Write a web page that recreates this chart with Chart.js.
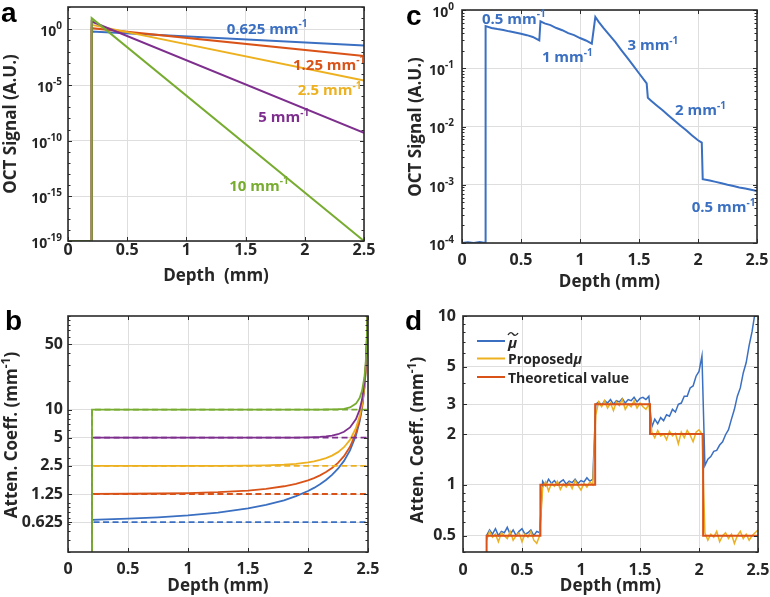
<!DOCTYPE html>
<html>
<head>
<meta charset="utf-8">
<script src="https://cdn.jsdelivr.net/npm/chart.js@4.4.0/dist/chart.umd.min.js"></script>
<style>
  body { margin: 0; background: #fff; }
  #wrap { position: relative; width: 770px; height: 597px; }
  canvas { position: absolute; }
</style>
</head>
<body>
<div id="wrap">
  <canvas id="chartA" width="385" height="297" style="left:0;top:0"></canvas>
  <canvas id="chartC" width="385" height="297" style="left:385px;top:0"></canvas>
  <canvas id="chartB" width="385" height="300" style="left:0;top:297px"></canvas>
  <canvas id="chartD" width="385" height="300" style="left:385px;top:297px"></canvas>
</div>
<script>
// ---------- data ----------
var depthTicks = [0, 0.5, 1, 1.5, 2, 2.5];

// a: OCT signal of five homogeneous samples (log scale, straight lines)
var aDepth = [0, 0.2, 0.2, 2.5];
var aSig10 = [1e-19, 1e-19, 10, 1e-19];
var aSig5 = [1e-19, 1e-19, 5, 5e-10];
var aSig25 = [1e-19, 1e-19, 2.5, 2.5e-5];
var aSig125 = [1e-19, 1e-19, 1.25, 4e-3];
var aSig0625 = [1e-19, 1e-19, 0.625, 0.035];
var aTicks = [1e-19, 1e-15, 1e-10, 1e-5, 1];
var aTickExp = ['-19', '-15', '-10', '-5', '0'];

// b: estimated attenuation (solid) vs true value (dashed)
var bDepth = [0.2, 0.2, 0.5, 0.75, 1.0, 1.25, 1.5, 1.65, 1.8, 1.9, 2.0, 2.05, 2.1, 2.15, 2.2, 2.25, 2.3, 2.35, 2.4, 2.43, 2.45, 2.47, 2.48, 2.49, 2.497];
var bEst10 = [0.1, 10, 10, 10, 10, 10, 10, 10, 10, 10, 10, 10.001, 10.003, 10.009, 10.02, 10.068, 10.19, 10.52, 11.57, 13.27, 15.82, 22.16, 30.33, 55.16, 172];
var bEst5 = [0.1, 5, 5, 5, 5, 5, 5, 5, 5.005, 5.012, 5.034, 5.056, 5.093, 5.156, 5.262, 5.447, 5.782, 6.436, 7.91, 9.93, 12.71, 19.29, 27.58, 52.5, 169];
var bEst25 = [0.1, 2.5, 2.5, 2.5, 2.501, 2.505, 2.517, 2.536, 2.578, 2.631, 2.724, 2.795, 2.891, 3.026, 3.218, 3.504, 3.955, 4.738, 6.353, 8.466, 11.3, 17.95, 26.27, 51.25, 168];
var bEst125 = [0.1, 1.254, 1.258, 1.266, 1.28, 1.307, 1.362, 1.42, 1.513, 1.609, 1.752, 1.851, 1.978, 2.144, 2.369, 2.69, 3.177, 3.997, 5.65, 7.79, 10.64, 17.29, 25.6, 50.6, 167];
var bEst0625 = [0.1, 0.662, 0.681, 0.704, 0.738, 0.791, 0.876, 0.955, 1.072, 1.185, 1.345, 1.453, 1.589, 1.763, 1.999, 2.329, 2.826, 3.655, 5.32, 7.46, 10.31, 16.98, 25.3, 50.3, 167];
var bTrueDepth = [0.2, 0.2, 2.5];
var bTrue10 = [0.1, 10, 10];
var bTrue5 = [0.1, 5, 5];
var bTrue25 = [0.1, 2.5, 2.5];
var bTrue125 = [0.1, 1.25, 1.25];
var bTrue0625 = [0.1, 0.625, 0.625];
var bTicks = [0.625, 1.25, 2.5, 5, 10, 50];
var bTickLabels = ['0.625', '1.25', '2.5', '5', '10', '50'];

// c: OCT signal of a layered sample
var cDepth = [0, 0.05, 0.1, 0.15, 0.199, 0.2, 0.25, 0.3, 0.35, 0.4, 0.45, 0.5, 0.55, 0.6, 0.655,
  0.665, 0.7, 0.75, 0.8, 0.85, 0.9, 0.95, 1.0, 1.05, 1.1, 1.13, 1.16, 1.2, 1.25, 1.3, 1.35, 1.4,
  1.45, 1.5, 1.565, 1.575, 1.6, 1.65, 1.7, 1.75, 1.8, 1.85, 1.9, 1.95, 2.0, 2.032, 2.04, 2.1,
  2.15, 2.2, 2.25, 2.3, 2.35, 2.4, 2.45, 2.5];
var cSignal = [1.0e-4, 1.03e-4, 1.0e-4, 1.04e-4, 1.0e-4, 0.53, 0.49, 0.47, 0.455, 0.43, 0.41, 0.39,
  0.37, 0.345, 0.30, 0.64, 0.59, 0.55, 0.49, 0.45, 0.40, 0.37, 0.33, 0.30, 0.265, 0.76, 0.62,
  0.49, 0.37, 0.28, 0.205, 0.152, 0.112, 0.082, 0.055, 0.031, 0.028, 0.023, 0.019, 0.0155,
  0.0127, 0.0104, 0.0086, 0.0070, 0.0058, 0.0053, 0.00125, 0.00118, 0.00112, 0.00106, 0.00100,
  0.00095, 0.00090, 0.00086, 0.00082, 0.00078];
var cTicks = [1e-4, 1e-3, 1e-2, 1e-1, 1];
var cTickExp = ['-4', '-3', '-2', '-1', '0'];

// d: attenuation of the layered sample
var dDepth = [0.2, 0.225, 0.25, 0.275, 0.3, 0.325, 0.35, 0.375, 0.4, 0.425, 0.45, 0.475, 0.5, 0.525, 0.55, 0.575, 0.6, 0.625, 0.65,
  0.675, 0.7, 0.725, 0.75, 0.775, 0.8, 0.825, 0.85, 0.875, 0.9, 0.925, 0.95, 0.975, 1.0, 1.025, 1.05, 1.075, 1.1,
  1.125, 1.15, 1.175, 1.2, 1.225, 1.25, 1.275, 1.3, 1.325, 1.35, 1.375, 1.4, 1.425, 1.45, 1.475, 1.5, 1.525, 1.55, 1.575,
  1.6, 1.625, 1.65, 1.675, 1.7, 1.725, 1.75, 1.775, 1.8, 1.825, 1.85, 1.875, 1.9, 1.925, 1.95, 1.975, 2.0, 2.025,
  2.05, 2.075, 2.1, 2.125, 2.15, 2.175, 2.2, 2.225, 2.25, 2.275, 2.3, 2.325, 2.35, 2.375, 2.4, 2.425, 2.45, 2.475, 2.5];
var dMuTilde = [0.5, 0.54, 0.51, 0.55, 0.5, 0.53, 0.52, 0.56, 0.51, 0.54, 0.5, 0.53, 0.55, 0.51, 0.52, 0.54, 0.5, 0.53, 0.52,
  1.05, 0.99, 1.08, 1.02, 1.06, 1.0, 1.04, 1.07, 1.01, 1.05, 1.03, 1.08, 1.02, 1.06, 1.04, 1.1, 1.05, 1.08,
  3.0, 3.1, 2.95, 3.15, 3.05, 3.2, 3.0, 3.15, 3.1, 3.25, 3.05, 3.2, 3.15, 3.3, 3.1, 3.25, 3.3, 3.2, 3.35,
  2.2, 2.45, 2.3, 2.5, 2.4, 2.6, 2.55, 2.8, 2.7, 3.0, 3.05, 3.35, 3.35, 3.75, 3.85, 4.4, 4.7, 5.8,
  1.3, 1.42, 1.47, 1.58, 1.6, 1.72, 1.8, 1.98, 2.12, 2.45, 2.8, 3.35, 3.75, 4.6, 5.3, 6.7, 8.1, 10.5, 13];
var dProposed = [0.47, 0.53, 0.49, 0.51, 0.46, 0.52, 0.50, 0.48, 0.53, 0.47, 0.50, 0.52, 0.46, 0.51, 0.49, 0.53, 0.47, 0.45, 0.50,
  0.96, 1.04, 0.92, 1.02, 0.98, 1.05, 0.94, 1.01, 0.97, 1.03, 0.95, 1.06, 0.99, 0.93, 1.02, 0.97, 1.04, 1.00,
  2.6, 3.1, 2.9, 3.15, 2.85, 3.05, 2.75, 3.1, 2.95, 3.2, 2.8, 3.0, 2.9, 3.15, 2.85, 3.05, 2.9, 2.8, 3.0,
  2.05, 1.9, 2.1, 1.95, 2.0, 1.85, 2.08, 1.95, 2.02, 1.75, 2.05, 1.9, 2.1, 1.97, 1.8, 2.05, 2.12, 2.0,
  0.52, 0.47, 0.51, 0.49, 0.53, 0.46, 0.50, 0.52, 0.48, 0.51, 0.45, 0.50, 0.53, 0.48, 0.51, 0.47, 0.50, 0.52, 0.54];
var dTrueDepth = [0.2, 0.2, 0.656, 0.656, 1.12, 1.12, 1.585, 1.585, 2.035, 2.035, 2.5];
var dTrue = [0.1, 0.5, 0.5, 1, 1, 3, 3, 2, 2, 0.5, 0.5];
var dTicks = [0.5, 1, 2, 3, 5, 10];
var dTickLabels = ['0.5', '1', '2', '3', '5', '10'];
var dLegend = ['μ̃', 'Proposed μ', 'Theoretical value'];

// ---------- style ----------
var BLUE = '#3a6fc1', RED = '#d95319', YELLOW = '#edb120', PURPLE = '#7e2f8e', GREEN = '#77ac30';
var ink = '#262626', gridColor = '#dedede', frameColor = '#2b2b2b';
var fam = '"Open Sans", "DejaVu Sans", sans-serif';
var tickFont = { family: fam, size: 16, weight: 'bold', lineHeight: 1.2 };

function pts(xs, ys) {
  return xs.map(function (x, i) { return { x: x, y: ys[i] }; });
}
function series(xs, ys, color, width, dash) {
  return { data: pts(xs, ys), borderColor: color, borderWidth: width, borderDash: dash || [],
    pointRadius: 0, fill: false, tension: 0 };
}
function minorLog(lo, hi) {
  var out = [];
  for (var e = Math.floor(Math.log10(lo)); e <= Math.ceil(Math.log10(hi)); e++) {
    for (var m = 1; m < 10; m++) {
      var v = m * Math.pow(10, e);
      if (v >= lo * 0.999 && v <= hi * 1.001) out.push(v);
    }
  }
  return out;
}

// text with superscript / italic pieces; y is the visual middle of the caps
function drawRich(ctx, x, y, parts, size, color, align, rot, raise) {
  raise = raise || 0.42;
  ctx.save();
  ctx.translate(x, y);
  if (rot) ctx.rotate(rot);
  ctx.fillStyle = color;
  ctx.textBaseline = 'alphabetic';
  var fonts = parts.map(function (p) {
    var sz = p[1] === 's' ? Math.round(size * 0.68) : size;
    return (p[1] === 'i' ? 'italic ' : '') + 'bold ' + sz + 'px ' + fam;
  });
  var widths = parts.map(function (p, i) { ctx.font = fonts[i]; return ctx.measureText(p[0]).width; });
  var total = widths.reduce(function (a, b) { return a + b; }, 0);
  var cx = align === 'center' ? -total / 2 : align === 'right' ? -total : 0;
  parts.forEach(function (p, i) {
    ctx.font = fonts[i];
    var dy = size * 0.357;
    if (p[1] === 's') dy -= size * raise;
    ctx.fillText(p[0], cx, dy);
    cx += widths[i];
  });
  ctx.restore();
}

function decor(cfg) {
  return {
    id: 'decor',
    afterDatasetsDraw: function (chart) {
      var ctx = chart.ctx, a = chart.chartArea, xs = chart.scales.x, ys = chart.scales.y;
      ctx.save();
      ctx.strokeStyle = frameColor;
      ctx.lineWidth = 1;
      ctx.beginPath();
      depthTicks.forEach(function (v) {
        var px = Math.round(xs.getPixelForValue(v)) + 0.5;
        ctx.moveTo(px, a.bottom); ctx.lineTo(px, a.bottom - 4);
        ctx.moveTo(px, a.top); ctx.lineTo(px, a.top + 4);
      });
      cfg.yTicks.forEach(function (v) {
        var py = Math.round(ys.getPixelForValue(v)) + 0.5;
        ctx.moveTo(a.left, py); ctx.lineTo(a.left + 4, py);
        ctx.moveTo(a.right, py); ctx.lineTo(a.right - 4, py);
      });
      (cfg.yMinor || []).forEach(function (v) {
        var py = Math.round(ys.getPixelForValue(v)) + 0.5;
        ctx.moveTo(a.left, py); ctx.lineTo(a.left + 2.5, py);
        ctx.moveTo(a.right, py); ctx.lineTo(a.right - 2.5, py);
      });
      ctx.stroke();
      ctx.lineWidth = 1.6;
      ctx.strokeRect(a.left, a.top, a.right - a.left, a.bottom - a.top);
      ctx.restore();
    },
    afterDraw: function (chart) {
      var ctx = chart.ctx, a = chart.chartArea, xs = chart.scales.x, ys = chart.scales.y;
      // panel letter
      ctx.save();
      ctx.fillStyle = '#000';
      ctx.font = 'bold 28px "Liberation Sans", Arial, sans-serif';
      ctx.textBaseline = 'alphabetic';
      ctx.fillText(cfg.letter[0], cfg.letter[1], cfg.letter[2]);
      ctx.restore();
      // power-of-ten tick labels
      if (cfg.expLabels) {
        cfg.yTicks.forEach(function (v, i) {
          drawRich(ctx, a.left - cfg.expGap, ys.getPixelForValue(v) + 2,
            [['10', 'n'], [cfg.expLabels[i], 's']], 14, ink, 'right', 0, 0.5);
        });
      }
      // axis titles
      drawRich(ctx, cfg.yTitle.x, cfg.yTitle.y, cfg.yTitle.parts, 17, ink, 'center', -Math.PI / 2);
      drawRich(ctx, (a.left + a.right) / 2, cfg.xTitleY, [[cfg.xTitle, 'n']], 17, ink, 'center');
      // curve labels in data coordinates
      (cfg.notes || []).forEach(function (n) {
        drawRich(ctx, xs.getPixelForValue(n.x), ys.getPixelForValue(n.y),
          [[n.text, 'n'], ['-1', 's']], 15, n.color, 'left');
      });
      if (cfg.legend) cfg.legend(ctx, chart);
    }
  };
}

function axes(g) {
  return {
    x: {
      type: 'linear', min: 0, max: 2.5,
      afterBuildTicks: function (s) { s.ticks = depthTicks.map(function (v) { return { value: v }; }); },
      afterFit: function (s) { s.height = g.xH; s.paddingLeft = 0; s.paddingRight = 0; },
      grid: { color: gridColor, lineWidth: 1, drawTicks: false },
      border: { display: false },
      ticks: { padding: g.xPad, color: ink, font: tickFont, maxRotation: 0, autoSkip: false,
        callback: function (v) { return String(v); } }
    },
    y: {
      type: 'logarithmic', min: g.yMin, max: g.yMax,
      afterBuildTicks: function (s) { s.ticks = g.yTicks.map(function (v) { return { value: v }; }); },
      afterFit: function (s) { s.width = g.yW; s.paddingTop = 0; s.paddingBottom = 0; },
      grid: { color: gridColor, lineWidth: 1, drawTicks: false },
      border: { display: false },
      ticks: { display: !!g.yLabels, padding: g.yPad || 0, color: ink, font: tickFont, autoSkip: false,
        callback: function (v, i) { return g.yLabels ? g.yLabels[i] : ''; } }
    }
  };
}

function makeChart(id, g, datasets, cfg) {
  cfg.yTicks = g.yTicks;
  return new Chart(document.getElementById(id), {
    type: 'line',
    data: { datasets: datasets },
    options: {
      responsive: false, animation: false, devicePixelRatio: 1,
      layout: { padding: { left: 0, top: g.top, right: g.right, bottom: 0 } },
      plugins: { legend: { display: false }, tooltip: { enabled: false } },
      scales: axes(g)
    },
    plugins: [decor(cfg)]
  });
}

// ---------- a ----------
makeChart('chartA',
  { yMin: 1e-19, yMax: 100, yTicks: aTicks, yW: 68, top: 7, right: 21, xH: 56, xPad: 0 },
  [
    series(aDepth, aSig10, GREEN, 2),
    series(aDepth, aSig5, PURPLE, 2),
    series(aDepth, aSig25, YELLOW, 2),
    series(aDepth, aSig125, RED, 2),
    series(aDepth, aSig0625, BLUE, 2)
  ],
  {
    letter: ['a', 1, 22],
    expLabels: aTickExp, expGap: 6,
    yMinor: minorLog(1e-19, 100).filter(function (v) { return Math.abs(Math.log10(v) % 1) < 1e-9; }),
    yTitle: { x: 10, y: 124, parts: [['OCT Signal (A.U.)', 'n']] },
    xTitle: 'Depth  (mm)', xTitleY: 275,
    notes: [
      { text: '0.625 mm', x: 1.34, y: 1.2, color: BLUE },
      { text: '1.25 mm', x: 1.9, y: 7e-4, color: RED },
      { text: '2.5 mm', x: 1.94, y: 3.8e-6, color: YELLOW },
      { text: '5 mm', x: 1.607, y: 1.5e-8, color: PURPLE },
      { text: '10 mm', x: 1.362, y: 1e-14, color: GREEN }
    ]
  });

// ---------- c ----------
makeChart('chartC',
  { yMin: 1e-4, yMax: 1, yTicks: cTicks, yW: 77, top: 10, right: 13, xH: 54, xPad: 8 },
  [series(cDepth, cSignal, BLUE, 2)],
  {
    letter: ['c', 21, 25],
    expLabels: cTickExp, expGap: 8,
    yMinor: minorLog(1e-4, 1),
    yTitle: { x: 30, y: 127, parts: [['OCT Signal (A.U.)', 'n']] },
    xTitle: 'Depth (mm)', xTitleY: 281,
    notes: [
      { text: '0.5 mm', x: 0.169, y: 0.72, color: BLUE },
      { text: '1 mm', x: 0.677, y: 0.158, color: BLUE },
      { text: '3 mm', x: 1.402, y: 0.25, color: BLUE },
      { text: '2 mm', x: 1.806, y: 0.0193, color: BLUE },
      { text: '0.5 mm', x: 1.947, y: 4.2e-4, color: BLUE }
    ]
  });

// ---------- b ----------
makeChart('chartB',
  { yMin: 0.3, yMax: 100, yTicks: bTicks, yLabels: bTickLabels, yPad: 5, yW: 68, top: 19, right: 17, xH: 45, xPad: 8 },
  [
    series(bTrueDepth, bTrue10, GREEN, 1.8, [6, 3.5]),
    series(bDepth, bEst10, GREEN, 1.8),
    series(bTrueDepth, bTrue5, PURPLE, 1.8, [6, 3.5]),
    series(bDepth, bEst5, PURPLE, 1.8),
    series(bTrueDepth, bTrue25, YELLOW, 1.8, [6, 3.5]),
    series(bDepth, bEst25, YELLOW, 1.8),
    series(bTrueDepth, bTrue125, RED, 1.8, [6, 3.5]),
    series(bDepth, bEst125, RED, 1.8),
    series(bTrueDepth, bTrue0625, BLUE, 1.8, [6, 3.5]),
    series(bDepth, bEst0625, BLUE, 1.8)
  ],
  {
    letter: ['b', 5, 33],
    yMinor: minorLog(0.3, 100),
    yTitle: { x: 11, y: 138, parts: [['Atten. Coeff. (mm', 'n'], ['-1', 's'], [')', 'n']] },
    xTitle: 'Depth (mm)', xTitleY: 288
  });

// ---------- d ----------
var dColors = [BLUE, YELLOW, RED];
makeChart('chartD',
  { yMin: 0.4, yMax: 10, yTicks: dTicks, yLabels: dTickLabels, yPad: 7, yW: 78, top: 19, right: 12, xH: 45, xPad: 9 },
  [
    Object.assign(series(dTrueDepth, dTrue, RED, 2), { label: dLegend[2] }),
    Object.assign(series(dDepth, dProposed, YELLOW, 1.5), { label: dLegend[1] }),
    Object.assign(series(dDepth, dMuTilde, BLUE, 1.5), { label: dLegend[0] })
  ],
  {
    letter: ['d', 20, 33],
    yMinor: minorLog(0.4, 10),
    yTitle: { x: 32, y: 143, parts: [['Atten. Coeff. (mm', 'n'], ['-1', 's'], [')', 'n']] },
    xTitle: 'Depth (mm)', xTitleY: 288,
    legend: function (ctx) {
      var rowsY = [44, 61.5, 80];
      dLegend.forEach(function (lab, i) {
        ctx.save();
        ctx.strokeStyle = dColors[i];
        ctx.lineWidth = 2;
        ctx.beginPath();
        ctx.moveTo(92, rowsY[i]); ctx.lineTo(120, rowsY[i]);
        ctx.stroke();
        ctx.restore();
        if (i === 0) {
          drawRich(ctx, 123, rowsY[i] + 2, [['μ', 'i']], 15, ink, 'left');
          // wide tilde over the mu
          var tx = 128, ty = rowsY[i] - 7;
          ctx.save();
          ctx.strokeStyle = ink;
          ctx.lineWidth = 1.4;
          ctx.beginPath();
          ctx.moveTo(tx - 5, ty + 1);
          ctx.bezierCurveTo(tx - 3, ty - 2.5, tx - 1, ty - 1.5, tx, ty);
          ctx.bezierCurveTo(tx + 1, ty + 1.5, tx + 3, ty + 2.5, tx + 5, ty - 1);
          ctx.stroke();
          ctx.restore();
        } else if (i === 1) {
          drawRich(ctx, 123, rowsY[i] + 1, [['Proposed', 'n'], ['μ', 'i']], 14, ink, 'left');
        } else {
          drawRich(ctx, 123, rowsY[i] + 1, [[lab, 'n']], 14, ink, 'left');
        }
      });
    }
  });
</script>
</body>
</html>
